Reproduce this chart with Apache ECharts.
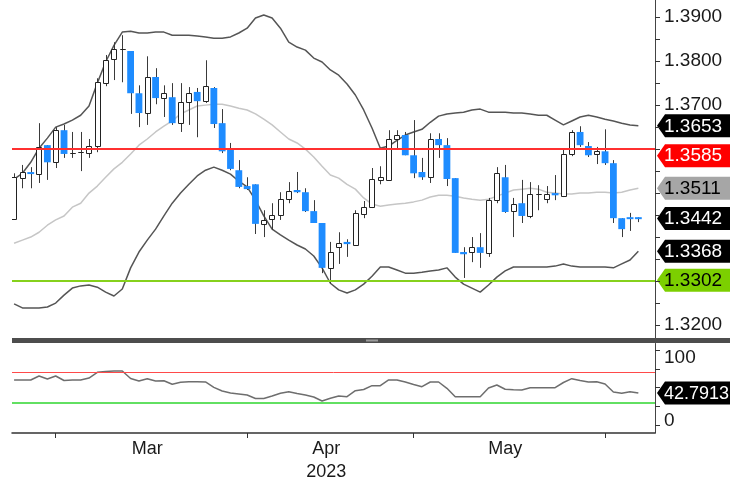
<!DOCTYPE html>
<html>
<head>
<meta charset="utf-8">
<script src="https://cdn.jsdelivr.net/npm/echarts@6/dist/echarts.min.js"></script>
<style>
html, body { margin: 0; padding: 0; background: #fff; }
#chart { width: 730px; height: 484px; }
</style>
</head>
<body>
<div id="chart"></div>
<script>
// trading days shown on the chart
const dates = [
  '2023-02-22', '2023-02-23', '2023-02-24', '2023-02-27', '2023-02-28',
  '2023-03-01', '2023-03-02', '2023-03-03', '2023-03-06', '2023-03-07', '2023-03-08', '2023-03-09', '2023-03-10',
  '2023-03-13', '2023-03-14', '2023-03-15', '2023-03-16', '2023-03-17', '2023-03-20', '2023-03-21', '2023-03-22',
  '2023-03-23', '2023-03-24', '2023-03-27', '2023-03-28', '2023-03-29', '2023-03-30', '2023-03-31',
  '2023-04-03', '2023-04-04', '2023-04-05', '2023-04-06', '2023-04-07', '2023-04-10', '2023-04-11', '2023-04-12',
  '2023-04-13', '2023-04-14', '2023-04-17', '2023-04-18', '2023-04-19', '2023-04-20', '2023-04-21', '2023-04-24',
  '2023-04-25', '2023-04-26', '2023-04-27', '2023-04-28',
  '2023-05-01', '2023-05-02', '2023-05-03', '2023-05-04', '2023-05-05', '2023-05-08', '2023-05-09', '2023-05-10',
  '2023-05-11', '2023-05-12', '2023-05-15', '2023-05-16', '2023-05-17', '2023-05-18', '2023-05-19', '2023-05-22',
  '2023-05-23', '2023-05-24', '2023-05-25', '2023-05-26', '2023-05-29', '2023-05-30', '2023-05-31',
  '2023-06-01', '2023-06-02', '2023-06-05', '2023-06-06', '2023-06-07'
]

const open = [
  1.3441, 1.3534, 1.3547, 1.3543, 1.3609, 1.3570, 1.3643, 1.3591, 1.3593, 1.3591,
  1.3607, 1.3750, 1.3805, 1.3827, 1.3823, 1.3727, 1.3682, 1.3764, 1.3716, 1.3718,
  1.3659, 1.3707, 1.3730, 1.3709, 1.3739, 1.3659, 1.3598, 1.3552, 1.3516, 1.3520,
  1.3430, 1.3441, 1.3450, 1.3486, 1.3507, 1.3502, 1.3459, 1.3432, 1.3330, 1.3377,
  1.3389, 1.3382, 1.3452, 1.3468, 1.3530, 1.3530, 1.3623, 1.3632, 1.3586, 1.3548,
  1.3536, 1.3623, 1.3609, 1.3534, 1.3366, 1.3366, 1.3377, 1.3364, 1.3484, 1.3536,
  1.3459, 1.3477, 1.3448, 1.3498, 1.3486, 1.3500, 1.3493, 1.3589, 1.3639, 1.3607,
  1.3589, 1.3595, 1.3568, 1.3443, 1.3445, 1.3444
]
const close = [
  1.3536, 1.3548, 1.3544, 1.3605, 1.3570, 1.3643, 1.3589, 1.3591, 1.3593, 1.3607,
  1.3752, 1.3802, 1.3827, 1.3827, 1.3727, 1.3682, 1.3764, 1.3716, 1.3727, 1.3659,
  1.3707, 1.3727, 1.3709, 1.3743, 1.3657, 1.3595, 1.3555, 1.3514, 1.3509, 1.3430,
  1.3439, 1.3450, 1.3486, 1.3505, 1.3502, 1.3459, 1.3432, 1.3330, 1.3366, 1.3386,
  1.3384, 1.3455, 1.3468, 1.3532, 1.3536, 1.3623, 1.3632, 1.3586, 1.3545, 1.3536,
  1.3623, 1.3609, 1.3532, 1.3364, 1.3361, 1.3377, 1.3364, 1.3484, 1.3545, 1.3457,
  1.3475, 1.3448, 1.3498, 1.3498, 1.3498, 1.3495, 1.3589, 1.3639, 1.3609, 1.3586,
  1.3595, 1.3568, 1.3443, 1.3418, 1.3441, 1.3442
]
const low = [
  1.3439, 1.3511, 1.3511, 1.3523, 1.3530, 1.3557, 1.3580, 1.3580, 1.3550, 1.3580,
  1.3593, 1.3743, 1.3757, 1.3752, 1.3680, 1.3650, 1.3655, 1.3702, 1.3673, 1.3655,
  1.3639, 1.3655, 1.3627, 1.3705, 1.3648, 1.3591, 1.3552, 1.3511, 1.3507, 1.3407,
  1.3400, 1.3416, 1.3439, 1.3477, 1.3500, 1.3457, 1.3432, 1.3318, 1.3295, 1.3339,
  1.3355, 1.3380, 1.3443, 1.3466, 1.3520, 1.3530, 1.3598, 1.3586, 1.3534, 1.3530,
  1.3523, 1.3580, 1.3516, 1.3364, 1.3307, 1.3343, 1.3330, 1.3355, 1.3477, 1.3455,
  1.3400, 1.3432, 1.3443, 1.3461, 1.3477, 1.3484, 1.3491, 1.3584, 1.3605, 1.3582,
  1.3566, 1.3564, 1.3432, 1.3400, 1.3414, 1.3434
]
const high = [
  1.3545, 1.3564, 1.3559, 1.3659, 1.3609, 1.3650, 1.3655, 1.3639, 1.3639, 1.3623,
  1.3761, 1.3814, 1.3843, 1.3859, 1.3823, 1.3745, 1.3811, 1.3784, 1.3745, 1.3750,
  1.3750, 1.3741, 1.3739, 1.3802, 1.3741, 1.3691, 1.3614, 1.3575, 1.3536, 1.3520,
  1.3461, 1.3477, 1.3502, 1.3525, 1.3548, 1.3511, 1.3484, 1.3432, 1.3389, 1.3411,
  1.3395, 1.3461, 1.3482, 1.3557, 1.3561, 1.3643, 1.3643, 1.3639, 1.3666, 1.3580,
  1.3636, 1.3636, 1.3625, 1.3534, 1.3377, 1.3400, 1.3409, 1.3489, 1.3559, 1.3564,
  1.3489, 1.3530, 1.3525, 1.3518, 1.3516, 1.3541, 1.3602, 1.3643, 1.3652, 1.3616,
  1.3605, 1.3645, 1.3575, 1.3443, 1.3455, 1.3445
]

// bollinger bands
const upperBand = [
  1.3532, 1.3545, 1.3570, 1.3602, 1.3625, 1.3650, 1.3657, 1.3666, 1.3677, 1.3698,
  1.3750, 1.3798, 1.3836, 1.3866, 1.3868, 1.3864, 1.3864, 1.3866, 1.3866, 1.3859,
  1.3859, 1.3859, 1.3857, 1.3855, 1.3852, 1.3852, 1.3855, 1.3864, 1.3875, 1.3898,
  1.3905, 1.3898, 1.3875, 1.3843, 1.3832, 1.3825, 1.3807, 1.3798, 1.3780, 1.3768,
  1.3748, 1.3723, 1.3689, 1.3648, 1.3602, 1.3607, 1.3620, 1.3632, 1.3639, 1.3645,
  1.3661, 1.3675, 1.3680, 1.3682, 1.3684, 1.3689, 1.3691, 1.3684, 1.3684, 1.3684,
  1.3682, 1.3682, 1.3680, 1.3677, 1.3677, 1.3666, 1.3655, 1.3664, 1.3673, 1.3677,
  1.3673, 1.3668, 1.3664, 1.3659, 1.3655, 1.3653
]
const midBand = [
  1.3386, 1.3393, 1.3400, 1.3411, 1.3427, 1.3439, 1.3448, 1.3468, 1.3477, 1.3500,
  1.3516, 1.3536, 1.3555, 1.3570, 1.3589, 1.3609, 1.3623, 1.3639, 1.3652, 1.3664,
  1.3680, 1.3689, 1.3698, 1.3700, 1.3702, 1.3702, 1.3698, 1.3693, 1.3689, 1.3680,
  1.3668, 1.3655, 1.3639, 1.3623, 1.3614, 1.3600, 1.3582, 1.3561, 1.3541, 1.3534,
  1.3520, 1.3509, 1.3489, 1.3475, 1.3470, 1.3473, 1.3475, 1.3477, 1.3480, 1.3484,
  1.3491, 1.3495, 1.3495, 1.3493, 1.3489, 1.3486, 1.3484, 1.3486, 1.3493, 1.3500,
  1.3507, 1.3509, 1.3511, 1.3509, 1.3502, 1.3500, 1.3498, 1.3498, 1.3500, 1.3500,
  1.3502, 1.3502, 1.3500, 1.3502, 1.3507, 1.3511
]
const lowerBand = [
  1.3248, 1.3239, 1.3239, 1.3239, 1.3241, 1.3250, 1.3268, 1.3284, 1.3289, 1.3291,
  1.3286, 1.3275, 1.3266, 1.3282, 1.3330, 1.3366, 1.3393, 1.3418, 1.3448, 1.3477,
  1.3500, 1.3520, 1.3539, 1.3552, 1.3559, 1.3552, 1.3543, 1.3527, 1.3514, 1.3484,
  1.3448, 1.3418, 1.3405, 1.3393, 1.3382, 1.3373, 1.3357, 1.3330, 1.3295, 1.3280,
  1.3273, 1.3280, 1.3293, 1.3311, 1.3332, 1.3332, 1.3325, 1.3318, 1.3318, 1.3320,
  1.3323, 1.3325, 1.3330, 1.3309, 1.3293, 1.3284, 1.3275, 1.3291, 1.3309, 1.3323,
  1.3332, 1.3332, 1.3332, 1.3332, 1.3332, 1.3334, 1.3339, 1.3334, 1.3332, 1.3332,
  1.3332, 1.3332, 1.3330, 1.3339, 1.3348, 1.3368
]

const rsi = [
  60.3, 60.3, 60.3, 65.6, 61.6, 65.6, 59.6, 60.3, 60.3, 62.9,
  70.5, 71.6, 72.3, 72.3, 62.3, 58.9, 62.0, 58.9, 59.3, 54.5,
  57.2, 58.0, 58.0, 57.6, 50.5, 45.6, 42.9, 41.6, 40.3, 35.6,
  35.6, 38.9, 42.5, 44.7, 42.3, 40.3, 37.6, 32.3, 35.9, 38.9,
  38.0, 46.0, 47.6, 52.7, 52.7, 60.3, 60.3, 57.6, 54.3, 51.3,
  57.6, 57.6, 49.2, 38.0, 38.0, 38.0, 38.0, 49.6, 53.6, 47.9,
  47.3, 46.9, 50.0, 50.0, 50.0, 50.0, 56.9, 62.0, 59.6, 57.6,
  58.0, 54.9, 44.3, 42.5, 44.7, 42.7913
]

const resistance = 1.3585
const support = 1.3302
const rsiHigh = 70
const rsiLow = 30

const priceTicks = [1.3200, 1.3250, 1.3300, 1.3350, 1.3400, 1.3450, 1.3500, 1.3550,
  1.3600, 1.3650, 1.3700, 1.3750, 1.3800, 1.3850, 1.3900]
const priceLabels = [1.3200, 1.3700, 1.3800, 1.3900]
const rsiTicks = [0, 25, 50, 75, 100]
const rsiLabels = [0, 100]
const monthNames = ['Jan', 'Feb', 'Mar', 'Apr', 'May', 'Jun', 'Jul', 'Aug', 'Sep', 'Oct', 'Nov', 'Dec']

const FONT = '"Liberation Sans", Arial, sans-serif'
const BLUE = '#1e8cff'

// month starts (ticks) and month middles (labels) from the dates
const monthStarts = []
const monthMid = {}
let runStart = 0
dates.forEach((d, i) => {
  const m = d.slice(0, 7)
  if (i > 0 && m !== dates[i - 1].slice(0, 7)) {
    monthStarts.push(i)
    runStart = i
  }
  const last = i === dates.length - 1 || dates[i + 1].slice(0, 7) !== m
  if (last && i - runStart >= 10) {
    const mo = +d.slice(5, 7)
    let txt = monthNames[mo - 1]
    if (mo === 4) txt += '\n' + d.slice(0, 4)
    monthMid[(runStart + i) / 2] = txt
  }
})

const chart = echarts.init(document.getElementById('chart'))

const candleData = dates.map((d, i) => [i, open[i], close[i], low[i], high[i]])

function renderCandle(params, api) {
  const i = api.value(0)
  const o = api.value(1)
  const c = api.value(2)
  const pO = api.coord([i, o])
  const pC = api.coord([i, c])
  const pL = api.coord([i, api.value(3)])
  const pH = api.coord([i, api.value(4)])
  const band = api.size([1, 0])[0]
  const up = c >= o
  const w = up ? band * 0.64 : band * 0.82
  let top = Math.min(pO[1], pC[1])
  let h = Math.abs(pO[1] - pC[1])
  if (!up && h < 2) { top -= (2 - h) / 2; h = 2 }
  const body = up
    ? { type: 'rect', shape: { x: Math.round(pO[0] - w / 2) + 0.5, y: Math.round(top) + 0.5, width: Math.round(w), height: Math.max(Math.round(h), 0) },
        style: { fill: '#fff', stroke: '#222', lineWidth: 1 } }
    : { type: 'rect', shape: { x: pO[0] - w / 2, y: top, width: w, height: h },
        style: { fill: BLUE } }
  return {
    type: 'group',
    children: [
      { type: 'line', shape: { x1: Math.round(pH[0]) + 0.5, y1: pH[1], x2: Math.round(pL[0]) + 0.5, y2: pL[1] },
        style: { stroke: '#3a3a3a', lineWidth: 1 } },
      body
    ]
  }
}

const lineOf = (arr) => arr.map((v, i) => [i, v])

chart.setOption({
  animation: false,
  backgroundColor: '#fff',
  grid: [
    { left: 12, right: 75, top: 0, height: 340 },
    { left: 12, right: 75, top: 343.5, height: 89.5 }
  ],
  xAxis: [
    { gridIndex: 0, type: 'value', min: -0.25, max: 77, show: false },
    {
      gridIndex: 1, type: 'value', min: -0.25, max: 77,
      splitLine: { show: false },
      axisLine: { onZero: false, lineStyle: { color: '#333', width: 1.5 } },
      axisTick: { customValues: monthStarts, length: 5, lineStyle: { color: '#333' } },
      axisLabel: {
        customValues: Object.keys(monthMid).map(Number),
        formatter: (v) => monthMid[v] || '',
        fontFamily: FONT, fontSize: 18, lineHeight: 23, color: '#1a1a1a', margin: 5
      }
    }
  ],
  yAxis: [
    {
      gridIndex: 0, type: 'value', position: 'right', min: 1.3166, max: 1.3939, scale: true,
      splitLine: { show: false },
      axisLine: { show: true, onZero: false, lineStyle: { color: '#444', width: 1 } },
      axisTick: { show: true, customValues: priceTicks, length: 5, lineStyle: { color: '#333' } },
      axisLabel: {
        customValues: priceLabels,
        formatter: (v) => v.toFixed(4),
        fontFamily: FONT, fontSize: 19, color: '#1a1a1a', margin: 9
      }
    },
    {
      gridIndex: 1, type: 'value', position: 'right', min: -10.4, max: 108.9,
      splitLine: { show: false },
      axisLine: { show: true, onZero: false, lineStyle: { color: '#444', width: 1 } },
      axisTick: { show: true, customValues: rsiTicks, length: 5, lineStyle: { color: '#333' } },
      axisLabel: {
        customValues: rsiLabels,
        formatter: (v) => (v === 100 ? '{dn|100}' : '{up|0}'),
        rich: {
          dn: { fontFamily: FONT, fontSize: 19, color: '#1a1a1a', padding: [15, 0, 0, 0] },
          up: { fontFamily: FONT, fontSize: 19, color: '#1a1a1a', padding: [0, 0, 9, 0] }
        },
        margin: 9
      }
    }
  ],
  series: [
    {
      name: 'upper', type: 'line', xAxisIndex: 0, yAxisIndex: 0, data: lineOf(upperBand),
      showSymbol: false, symbol: 'none', z: 2,
      lineStyle: { color: '#555', width: 1.5 },
      markLine: {
        silent: true, symbol: 'none', label: { show: false },
        data: [
          { yAxis: resistance, lineStyle: { color: '#ff3030', width: 2, type: 'solid' } },
          { yAxis: support, lineStyle: { color: '#86d11c', width: 2, type: 'solid' } }
        ]
      }
    },
    {
      name: 'mid', type: 'line', xAxisIndex: 0, yAxisIndex: 0, data: lineOf(midBand),
      showSymbol: false, symbol: 'none', z: 2,
      lineStyle: { color: '#c6c6c6', width: 1.5 }
    },
    {
      name: 'lower', type: 'line', xAxisIndex: 0, yAxisIndex: 0, data: lineOf(lowerBand),
      showSymbol: false, symbol: 'none', z: 2,
      lineStyle: { color: '#555', width: 1.5 }
    },
    {
      name: 'price', type: 'custom', xAxisIndex: 0, yAxisIndex: 0, data: candleData,
      renderItem: renderCandle, clip: true, z: 3,
      encode: { x: 0, y: [1, 2, 3, 4] }
    },
    {
      name: 'rsi', type: 'line', xAxisIndex: 1, yAxisIndex: 1, data: lineOf(rsi),
      showSymbol: false, symbol: 'none', z: 3,
      lineStyle: { color: '#6e6e6e', width: 1.5 },
      markLine: {
        silent: true, symbol: 'none', label: { show: false },
        data: [
          { yAxis: rsiHigh, lineStyle: { color: '#ff4a4a', width: 1, type: 'solid' } },
          { yAxis: rsiLow, lineStyle: { color: '#62e062', width: 2, type: 'solid' } }
        ]
      }
    }
  ]
})

// value tags on the right axis
const axisX = chart.convertToPixel({ gridIndex: 0 }, [77, 1.35])[0]
function tag(yAxisIndex, value, text, bg, fg, size) {
  const y = chart.convertToPixel({ yAxisIndex: yAxisIndex }, value)
  return {
    type: 'group', z: 100,
    children: [
      { type: 'polygon', shape: { points: [[axisX + 2, y], [axisX + 10, y - 11.5], [730, y - 11.5], [730, y + 11.5], [axisX + 10, y + 11.5]] },
        style: { fill: bg } },
      { type: 'text', x: axisX + 9, y: y + 0.5,
        style: { text: text, fill: fg, font: size + 'px ' + FONT, verticalAlign: 'middle', align: 'left' } }
    ]
  }
}
const n = dates.length - 1
const sepY = chart.convertToPixel({ gridIndex: 0 }, [0, 1.3166])[1]
chart.setOption({
  graphic: [
    { type: 'rect', z: 90, shape: { x: 12, y: sepY - 2, width: 718, height: 5 }, style: { fill: '#4d4d4d' } },
    { type: 'rect', z: 91, shape: { x: 366, y: sepY - 0.5, width: 12, height: 2 }, style: { fill: '#9a9a9a' } },
    tag(0, upperBand[n], upperBand[n].toFixed(4), '#000', '#fff', 19),
    tag(0, resistance, resistance.toFixed(4), '#ff0000', '#fff', 19),
    tag(0, midBand[n], midBand[n].toFixed(4), '#a6a6a6', '#000', 19),
    tag(0, close[n], close[n].toFixed(4), '#000', '#fff', 19),
    tag(0, lowerBand[n], lowerBand[n].toFixed(4), '#000', '#fff', 19),
    tag(0, support, support.toFixed(4), '#7ccf00', '#000', 19),
    tag(1, rsi[n], rsi[n].toFixed(4), '#000', '#fff', 18)
  ]
})
</script>
</body>
</html>
